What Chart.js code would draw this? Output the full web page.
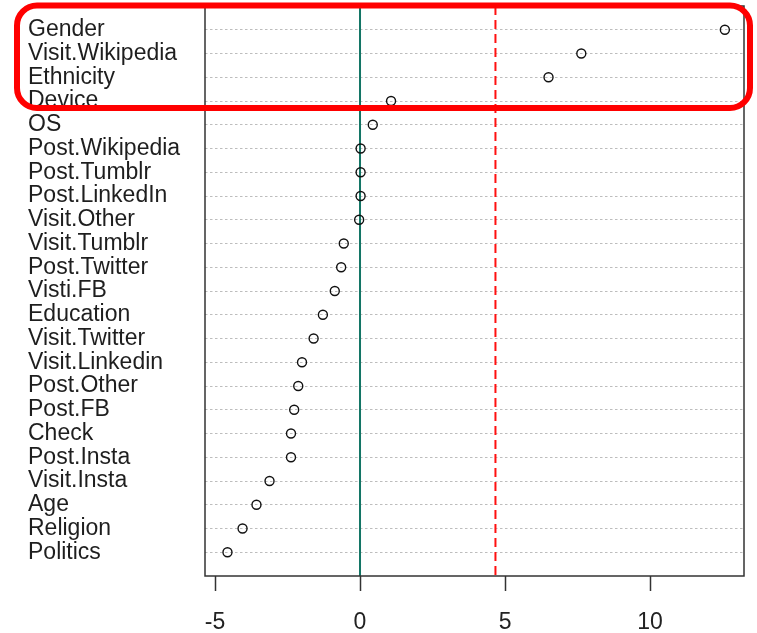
<!DOCTYPE html>
<html>
<head>
<meta charset="utf-8">
<script src="https://cdn.jsdelivr.net/npm/chart.js@4"></script>
<style>
  html, body { margin: 0; padding: 0; background: #fff; }
  #wrap { width: 757px; height: 633px; }
</style>
</head>
<body>
<div id="wrap"><canvas id="dotcanva" width="757" height="633"></canvas></div>
<script>
// variables, top to bottom
const variables = ["Gender","Visit.Wikipedia","Ethnicity","Device","OS","Post.Wikipedia","Post.Tumblr",
  "Post.LinkedIn","Visit.Other","Visit.Tumblr","Post.Twitter","Visti.FB","Education","Visit.Twitter",
  "Visit.Linkedin","Post.Other","Post.FB","Check","Post.Insta","Visit.Insta","Age","Religion","Politics"]
const scores = [12.58,7.63,6.5,1.07,0.44,0.02,0.02,0.02,-0.03,-0.56,-0.65,-0.87,-1.28,-1.6,-2.0,
  -2.13,-2.27,-2.38,-2.38,-3.12,-3.57,-4.05,-4.57]
const xTicks = [-5,0,5,10]
const zeroLine = 0
const cutLine = 4.67

const canva = document.querySelector("#dotcanva")
const nRows = variables.length

const points = scores.map((v,i) => ({x:v, y:i+1}))

// box around the plot + red highlight frame
const boxPlugin = {
    id:"box",
    afterDraw(chart){
        const {ctx, chartArea:a} = chart
        ctx.save()
        ctx.strokeStyle = "#333"
        ctx.lineWidth = 1.5
        ctx.strokeRect(a.left, a.top, a.right-a.left, a.bottom-a.top)
        // red rounded frame over first 4 rows
        ctx.strokeStyle = "#ff0000"
        ctx.lineWidth = 6
        ctx.beginPath()
        ctx.roundRect(17, 5.5, 733, 102.5, 20)
        ctx.stroke()
        ctx.restore()
    }
}

const chart = new Chart(canva,{
    type:"scatter",
    data:{
        datasets:[{
            data:points,
            pointStyle:"circle",
            pointRadius:4.5,
            pointBorderWidth:1.4,
            pointBorderColor:"#111",
            pointBackgroundColor:"rgba(0,0,0,0)",
            order:0
        },{
            type:"line",
            data:[{x:zeroLine,y:0},{x:zeroLine,y:nRows+1}],
            borderColor:"#137565",
            borderWidth:2,
            pointRadius:0,
            order:1
        },{
            type:"line",
            data:[{x:cutLine,y:0},{x:cutLine,y:nRows+1}],
            borderColor:"#ff1010",
            borderWidth:2,
            borderDash:[9,5],
            pointRadius:0,
            order:1
        }]
    },
    options:{
        responsive:false,
        animation:false,
        layout:{padding:{left:28, right:13, top:6, bottom:0}},
        plugins:{legend:{display:false}, tooltip:{enabled:false}},
        scales:{
            x:{
                type:"linear",
                min:-5.345,
                max:13.24,
                afterBuildTicks:(s) => { s.ticks = xTicks.map(v => ({value:v})) },
                afterFit:(s) => { s.height = 57; s.paddingLeft = 0; s.paddingRight = 0 },
                grid:{drawOnChartArea:false, drawTicks:true, tickLength:15, tickColor:"#333", tickWidth:1.5},
                border:{display:false},
                ticks:{
                    autoSkip:false, maxRotation:0, padding:18,
                    color:"#222",
                    font:{family:"Liberation Sans", size:23}
                }
            },
            y:{
                type:"linear",
                reverse:true,
                min:0,
                max:nRows+1,
                afterBuildTicks:(s) => { s.ticks = variables.map((v,i) => ({value:i+1})) },
                afterFit:(s) => { s.width = 177; s.paddingTop = 0; s.paddingBottom = 0 },
                grid:{color:"#bdbdbd", lineWidth:1, drawTicks:false},
                border:{display:false, dash:[2.5,2.5]},
                ticks:{
                    autoSkip:false,
                    crossAlign:"far",
                    padding:0,
                    color:"#1e1e1e",
                    font:{family:"Liberation Sans", size:23},
                    callback:(v) => variables[v-1] || ""
                }
            }
        }
    },
    plugins:[boxPlugin]
})
</script>
</body>
</html>
